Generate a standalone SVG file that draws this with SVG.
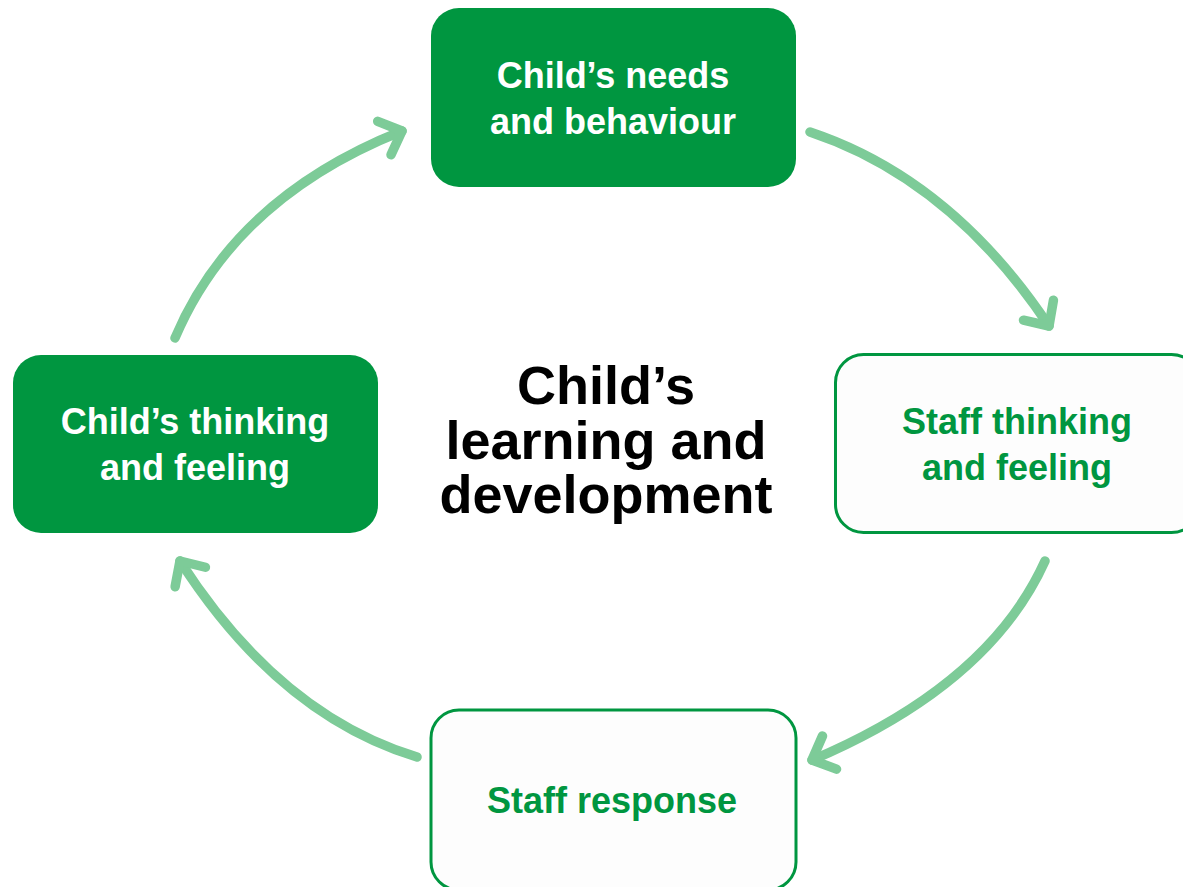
<svg xmlns="http://www.w3.org/2000/svg" width="1183" height="887" viewBox="0 0 1183 887">
<style>
.filled{fill:#009640;}
.outline{fill:#fdfdfd;stroke:#009640;stroke-width:3;}
.lbl{font-family:"Liberation Sans",Arial,sans-serif;font-weight:bold;font-size:36px;text-anchor:middle;}
.w{fill:#ffffff;}
.g{fill:#009640;}
.center{font-family:"Liberation Sans",Arial,sans-serif;font-weight:bold;font-size:54px;text-anchor:middle;fill:#000000;}
.arrow{fill:none;stroke:#7dcb98;stroke-width:9.5;stroke-linecap:round;marker-end:url(#head);}
</style>
<defs>
<marker id="head" markerUnits="userSpaceOnUse" viewBox="-30 -30 60 60" markerWidth="60" markerHeight="60" refX="0" refY="0" orient="auto" overflow="visible">
<path d="M-19,-18 L0,0 L-19,18" fill="none" stroke="#7dcb98" stroke-width="9.5" stroke-linecap="round" stroke-linejoin="round"/>
</marker>
</defs>
<rect width="1183" height="887" fill="#ffffff"/>
<g id="connectors">
<path class="arrow" d="M810,132 Q951,179 1049,326"/>
<path class="arrow" d="M1045,561 Q989,685 812,760"/>
<path class="arrow" d="M417,757 Q279,715 180,561"/>
<path class="arrow" d="M175,338 Q234.5,197.7 402,131"/>
</g>
<g id="node-needs">
<rect class="filled" x="431" y="8" width="365" height="179" rx="28"/>
<text class="lbl w" x="613" y="88">Child’s needs<tspan x="613" y="134">and behaviour</tspan></text>
</g>
<g id="node-staff-thinking">
<rect class="outline" x="835.5" y="354.5" width="364" height="178" rx="28"/>
<text class="lbl g" x="1017" y="434">Staff thinking<tspan x="1017" y="480">and feeling</tspan></text>
</g>
<g id="node-staff-response">
<rect class="outline" x="431" y="710" width="365" height="180" rx="28"/>
<text class="lbl g" x="612" y="813">Staff response</text>
</g>
<g id="node-child-thinking">
<rect class="filled" x="13" y="355" width="365" height="178" rx="28"/>
<text class="lbl w" x="195" y="434">Child’s thinking<tspan x="195" y="480">and feeling</tspan></text>
</g>
<g id="center-label">
<text class="center" x="606" y="404">Child’s<tspan x="606" y="459">learning and</tspan><tspan x="606" y="513">development</tspan></text>
</g>
</svg>
